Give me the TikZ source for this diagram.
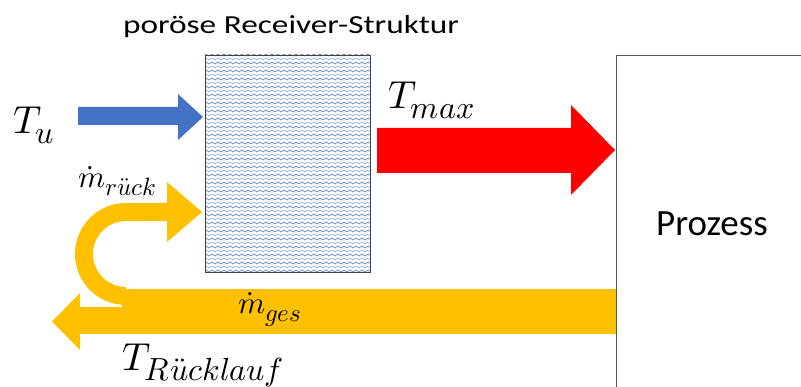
\documentclass[tikz,border=0pt]{standalone}
\usepackage{fontspec}
\usepackage{unicode-math}
\setmainfont{Carlito}
\setmathfont{Latin Modern Math}
\usetikzlibrary{decorations.pathmorphing}
\definecolor{pptblue}{HTML}{4472C4}
\definecolor{pptlight}{HTML}{8FAADC}
\definecolor{pptred}{HTML}{FF0000}
\definecolor{pptgold}{HTML}{FFC000}
\DeclareMathSizes{39}{39}{32}{22}
\DeclareMathSizes{31}{31}{25}{18}
\newcommand{\bigmath}[1]{\fontsize{39}{41}\selectfont$#1$}
\newcommand{\midmath}[1]{\fontsize{31}{33}\selectfont$#1$}

\begin{document}
\begin{tikzpicture}[x=1pt, y=1pt, lbl/.style={inner sep=0pt, anchor=base west},
  wave/.style={line width=0.6pt, decorate, decoration={snake, segment length=6pt, amplitude=1.1pt}}]
  \useasboundingbox (0,0) rectangle (801,387);
  % porous receiver
  \begin{scope}
    \clip (205,115) rectangle (370,332);
    \foreach \yy in {116,124,...,334}
      \draw[wave, pptblue] (198,\yy) -- (378,\yy);
    \foreach \yy in {120,128,...,334}
      \draw[wave, pptlight] (198,\yy) -- (378,\yy);
  \end{scope}
  \node[draw=black!75, line width=0.8pt, minimum width=165pt, minimum height=217pt, inner sep=0pt] (rcv) at (287.5,223.5) {};
  \node[inner sep=0pt, anchor=base] (title) at (291,353) {\fontsize{26}{28}\selectfont\scalebox{1.28}[1]{poröse Receiver-Struktur}};
  % process
  \draw[black!65, line width=0.8pt] (801,332) -- (616,332) -- (616,-2);
  \node (proz) at (712,163) {\fontsize{37}{40}\selectfont Prozess};
  % inflow and outflow
  \fill[pptblue] (78,262) -- (178,262) -- (178,247) -- (203,270) -- (178,293) -- (178,280) -- (78,280) -- cycle;
  \fill[pptred] (377,214) -- (571,214) -- (571,192) -- (615,237) -- (571,282) -- (571,259) -- (377,259) -- cycle;
  % return flow
  \fill[pptgold] (122,53) rectangle (616,98);
  \fill[pptgold] (183,53) -- (80,53) -- (80,37) -- (52,65.5) -- (80,94) -- (80,80) -- (183,80) -- cycle;
  \fill[pptgold] (167,184) -- (126,184) arc[start angle=90, end angle=270, radius=51]
    -- (126,100) arc[start angle=270, end angle=90, radius=33]
    -- (167,166) -- (167,145) -- (202,175) -- (167,205) -- cycle;
  % labels
  \node[lbl] (tu) at (13,253) {\bigmath{T_u}};
  \node[lbl] (tmax) at (388,278) {\bigmath{T_{max}}};
  \node[lbl] (mrueck) at (78,199) {\midmath{\dot{m}_{r\ddot{u}ck}}};
  \node[lbl] (mges) at (238,73) {\midmath{\dot{m}_{ges}}};
  \node[lbl] (trueck) at (122,16) {\bigmath{T_{R\ddot{u}cklauf}}};
\end{tikzpicture}
\end{document}
